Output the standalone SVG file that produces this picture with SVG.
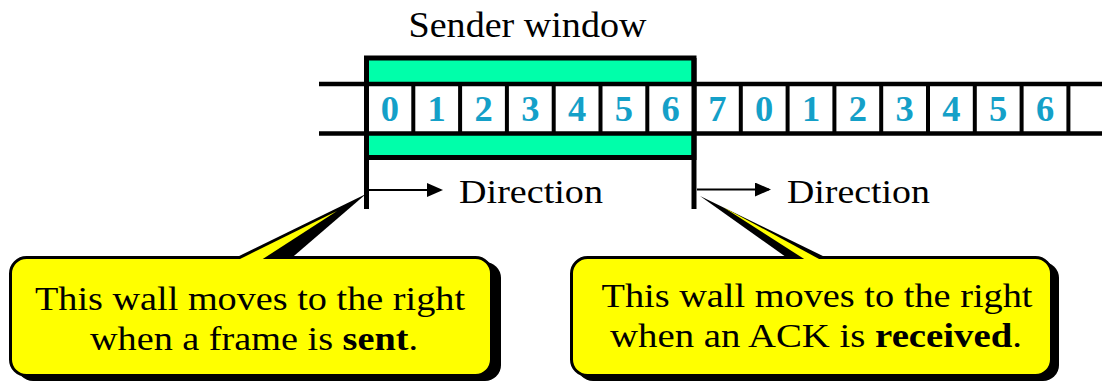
<svg xmlns="http://www.w3.org/2000/svg" width="1102" height="383" viewBox="0 0 1102 383">
  <style>
    .serif { font-family: "Liberation Serif", "Times New Roman", serif; fill: #000; }
    .digit { font-family: "Liberation Serif", "Times New Roman", serif; font-weight: bold; font-size: 36.5px; fill: #14a0c8; text-anchor: middle; }
    .rule { stroke: #000; stroke-width: 4.5; fill: none; }
    .wall { stroke: #000; stroke-width: 5; fill: none; }
    .arrow { stroke: #000; stroke-width: 2; fill: none; marker-end: url(#head); }
    .box { fill: #ffff00; stroke: #000; stroke-width: 3; }
    .shadow { fill: #000; }
    .note { font-size: 34px; text-anchor: middle; }
  </style>
  <defs>
    <marker id="head" markerWidth="16" markerHeight="14" refX="14" refY="7" orient="auto" markerUnits="userSpaceOnUse">
      <path d="M0,0 L16,7 L0,14 Z" fill="#000"/>
    </marker>
  </defs>

  <rect width="1102" height="383" fill="#fff"/>

  <!-- sender window: green frame around frames 0..6 -->
  <g id="sender-window">
    <text class="serif" x="527.5" y="36.5" font-size="36" text-anchor="middle" textLength="238" lengthAdjust="spacingAndGlyphs">Sender window</text>
    <rect x="366.5" y="58" width="327.5" height="99.5" fill="#00ffaa" stroke="#000" stroke-width="5"/>
  </g>

  <!-- sequence of frames -->
  <g id="frames">
    <rect x="366.5" y="84" width="327.5" height="49.5" fill="#fff"/>
    <line class="rule" x1="319" y1="84" x2="1102" y2="84"/>
    <line class="rule" x1="319" y1="133.5" x2="1102" y2="133.5"/>
    <g stroke="#000" stroke-width="4">
      <line x1="413.3" y1="84" x2="413.3" y2="133.5"/>
      <line x1="460.1" y1="84" x2="460.1" y2="133.5"/>
      <line x1="506.9" y1="84" x2="506.9" y2="133.5"/>
      <line x1="553.7" y1="84" x2="553.7" y2="133.5"/>
      <line x1="600.5" y1="84" x2="600.5" y2="133.5"/>
      <line x1="647.3" y1="84" x2="647.3" y2="133.5"/>
      <line x1="740.8" y1="84" x2="740.8" y2="133.5"/>
      <line x1="787.6" y1="84" x2="787.6" y2="133.5"/>
      <line x1="834.4" y1="84" x2="834.4" y2="133.5"/>
      <line x1="881.2" y1="84" x2="881.2" y2="133.5"/>
      <line x1="928" y1="84" x2="928" y2="133.5"/>
      <line x1="974.8" y1="84" x2="974.8" y2="133.5"/>
      <line x1="1021.6" y1="84" x2="1021.6" y2="133.5"/>
      <line x1="1068.4" y1="84" x2="1068.4" y2="133.5"/>
    </g>
    <text class="digit" x="389.9" y="121">0</text>
    <text class="digit" x="436.7" y="121">1</text>
    <text class="digit" x="483.5" y="121">2</text>
    <text class="digit" x="530.3" y="121">3</text>
    <text class="digit" x="577.1" y="121">4</text>
    <text class="digit" x="623.9" y="121">5</text>
    <text class="digit" x="670.7" y="121">6</text>
    <text class="digit" x="717.4" y="121">7</text>
    <text class="digit" x="764.2" y="121">0</text>
    <text class="digit" x="811" y="121">1</text>
    <text class="digit" x="857.8" y="121">2</text>
    <text class="digit" x="904.6" y="121">3</text>
    <text class="digit" x="951.4" y="121">4</text>
    <text class="digit" x="998.2" y="121">5</text>
    <text class="digit" x="1045" y="121">6</text>
  </g>

  <!-- the two walls of the window -->
  <g id="left-wall">
    <line class="wall" x1="366.5" y1="58" x2="366.5" y2="209"/>
    <text class="serif" x="459" y="203" font-size="34" textLength="144" lengthAdjust="spacingAndGlyphs">Direction</text>
  </g>
  <g id="right-wall">
    <line class="wall" x1="694" y1="58" x2="694" y2="209"/>
    <text class="serif" x="787" y="203" font-size="34" textLength="143" lengthAdjust="spacingAndGlyphs">Direction</text>
  </g>

  <!-- direction arrows -->
  <g id="connectors">
    <line class="arrow" x1="369" y1="190" x2="441" y2="190"/>
    <line class="arrow" x1="697" y1="189.5" x2="769" y2="189.5"/>
  </g>

  <!-- callout for the left wall -->
  <g id="callout-sent">
    <rect class="shadow" x="17" y="262" width="484" height="119" rx="16"/>
    <rect class="box" x="10.5" y="257.5" width="481" height="118" rx="16"/>
    <polygon class="shadow" points="366,194 234,258.5 291,258.5"/>
    <polygon fill="#ffff00" points="337,211 239,259.5 262,259.5"/>
    <text class="serif note" x="250" y="310" textLength="430" lengthAdjust="spacingAndGlyphs">This wall moves to the right</text>
    <text class="serif note" x="254" y="350" textLength="328" lengthAdjust="spacingAndGlyphs">when a frame is <tspan font-weight="bold">sent</tspan>.</text>
  </g>

  <!-- callout for the right wall -->
  <g id="callout-received">
    <rect class="shadow" x="577" y="262" width="482" height="119" rx="16"/>
    <rect class="box" x="571.5" y="257.5" width="480" height="118" rx="16"/>
    <polygon class="shadow" points="700,196 788,258.5 828,258.5"/>
    <polygon fill="#ffff00" points="723,207 805,259.5 820,259.5"/>
    <text class="serif note" x="817" y="307" textLength="431" lengthAdjust="spacingAndGlyphs">This wall moves to the right</text>
    <text class="serif note" x="816" y="347" textLength="412" lengthAdjust="spacingAndGlyphs">when an ACK is <tspan font-weight="bold">received</tspan>.</text>
  </g>
</svg>
